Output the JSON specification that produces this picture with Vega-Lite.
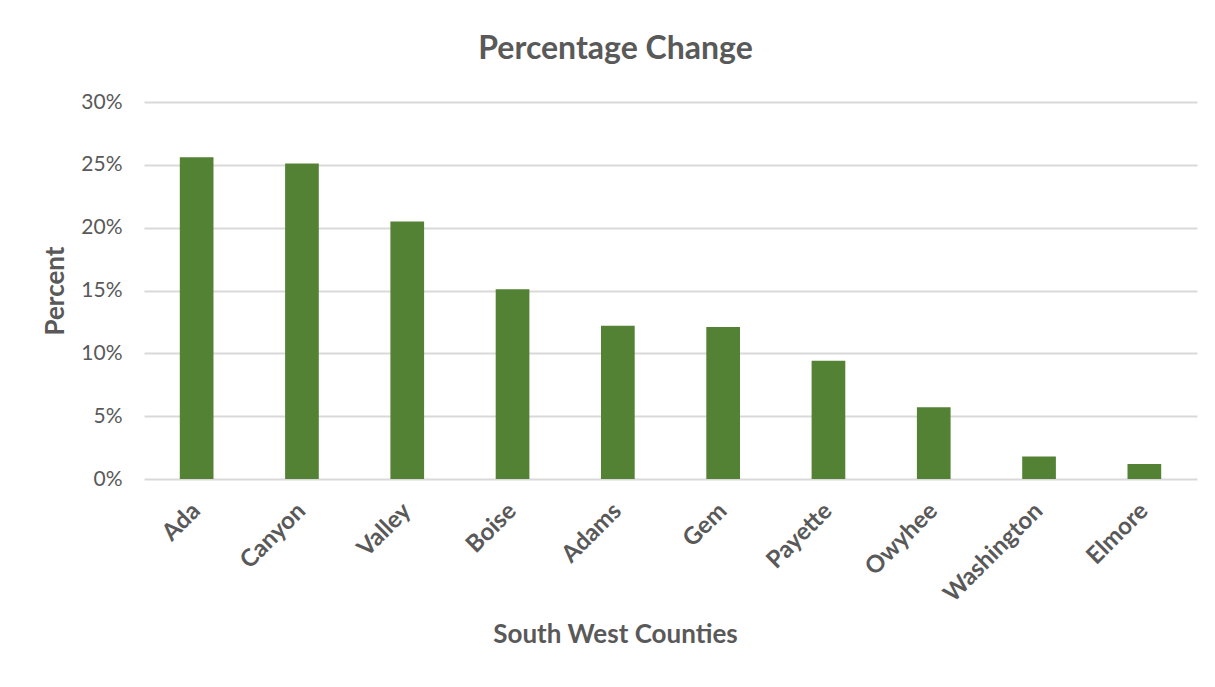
{
  "$schema": "https://vega.github.io/schema/vega-lite/v6.json",
  "width": 1053,
  "height": 377,
  "autosize": {"type": "none"},
  "padding": {"left": 144, "top": 102, "right": 18, "bottom": 208},
  "background": "white",
  "title": {
    "text": "Percentage Change",
    "font": "Lato",
    "fontSize": 32,
    "fontWeight": "bold",
    "color": "#595959",
    "anchor": "middle",
    "dx": -55,
    "offset": 25
  },
  "data": {
    "values": [
      {"county": "Ada", "pct": 0.256},
      {"county": "Canyon", "pct": 0.251},
      {"county": "Valley", "pct": 0.205},
      {"county": "Boise", "pct": 0.151},
      {"county": "Adams", "pct": 0.122},
      {"county": "Gem", "pct": 0.121},
      {"county": "Payette", "pct": 0.094},
      {"county": "Owyhee", "pct": 0.057},
      {"county": "Washington", "pct": 0.018},
      {"county": "Elmore", "pct": 0.012}
    ]
  },
  "mark": {"type": "bar", "color": "#548235"},
  "encoding": {
    "x": {
      "field": "county",
      "type": "nominal",
      "sort": null,
      "scale": {"paddingInner": 0.68, "paddingOuter": 0.34},
      "axis": {
        "title": "South West Counties",
        "labelAngle": -45,
        "labelAlign": "right",
        "labelBaseline": "middle",
        "labelFont": "Lato",
        "labelFontSize": 24,
        "labelFontWeight": "bold",
        "labelColor": "#595959",
        "labelPadding": 28,
        "ticks": false,
        "domain": false,
        "titleFont": "Lato",
        "titleFontSize": 26,
        "titleFontWeight": "bold",
        "titleColor": "#595959",
        "titleAnchor": "start",
        "titleAlign": "center",
        "titleBaseline": "middle",
        "titleX": 471,
        "titleY": 155
      }
    },
    "y": {
      "field": "pct",
      "type": "quantitative",
      "scale": {"domain": [0, 0.3], "nice": false},
      "axis": {
        "title": "Percent",
        "format": ".0%",
        "values": [0, 0.05, 0.1, 0.15, 0.2, 0.25, 0.3],
        "labelFont": "Lato",
        "labelFontSize": 21,
        "labelColor": "#595959",
        "labelPadding": 22,
        "ticks": false,
        "domain": false,
        "grid": true,
        "gridColor": "#d9d9d9",
        "gridWidth": 2,
        "titleFont": "Lato",
        "titleFontSize": 26,
        "titleFontWeight": "bold",
        "titleColor": "#595959",
        "titleAnchor": "middle",
        "titlePadding": 12
      }
    }
  },
  "config": {
    "view": {"stroke": null}
  }
}
